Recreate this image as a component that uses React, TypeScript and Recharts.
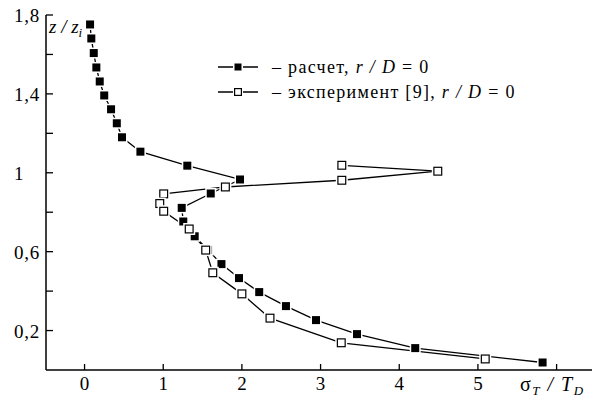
import { Label, Legend, Line, LineChart, XAxis, YAxis } from "recharts";

// расчет, r/D = 0
const calcSigma = [0.07, 0.086, 0.117, 0.15, 0.193, 0.25, 0.337, 0.41, 0.476, 0.71, 1.306, 1.976, 1.604, 1.235, 1.255, 1.4, 1.57, 1.74, 1.963, 2.22, 2.56, 2.942, 3.463, 4.203, 5.822];
const calcZ = [1.752, 1.681, 1.607, 1.534, 1.463, 1.392, 1.322, 1.251, 1.18, 1.107, 1.036, 0.966, 0.895, 0.822, 0.753, 0.678, 0.608, 0.537, 0.466, 0.395, 0.324, 0.253, 0.182, 0.111, 0.038];

// эксперимент [9], r/D = 0
const expSigma = [3.27, 4.49, 3.27, 1.79, 1.006, 0.956, 1.006, 1.33, 1.54, 1.63, 2.0, 2.357, 3.263, 5.093];
const expZ = [1.038, 1.008, 0.962, 0.928, 0.893, 0.844, 0.805, 0.715, 0.608, 0.493, 0.386, 0.263, 0.138, 0.056];

const xTicks = [0, 1, 2, 3, 4, 5, 6];
const xLabels = ["0", "1", "2", "3", "4", "5", ""];
const yTicks = [0.2, 0.4, 0.6, 0.8, 1, 1.2, 1.4, 1.6, 1.8];
const yLabelled = [0.2, 0.6, 1, 1.4, 1.8];

const calcData = calcSigma.map((x, i) => ({ x, y: calcZ[i] }));
const expData = expSigma.map((x, i) => ({ x, y: expZ[i] }));

const FONT = "'Liberation Serif', Tinos, 'Times New Roman', Times, 'DejaVu Serif', 'Noto Serif', serif";
const txt = { fontFamily: FONT };

function squareDot(filled: boolean) {
  return (props: any) => {
    const { cx, cy, index } = props;
    if (cx == null || cy == null) return <g key={`n-${index}`} />;
    const s = filled ? 8 : 9;
    return (
      <g key={`d-${filled ? "f" : "o"}-${index}`}>
        <rect x={cx - s / 2 - 1.5} y={cy - s / 2 - 1.5} width={s + 3} height={s + 3} fill="#fff" />
        <rect
          x={cx - s / 2 + (filled ? 0 : 0.6)}
          y={cy - s / 2 + (filled ? 0 : 0.6)}
          width={filled ? s : s - 1.2}
          height={filled ? s : s - 1.2}
          fill={filled ? "#000" : "#fff"}
          stroke={filled ? "none" : "#000"}
          strokeWidth={1.2}
        />
      </g>
    );
  };
}

function YTick(props: any) {
  const { x, y, payload } = props;
  const v = payload.value;
  const labelled = yLabelled.some((t) => Math.abs(t - v) < 1e-6);
  return (
    <g>
      <line x1={x} x2={x + 7} y1={y} y2={y} stroke="#000" strokeWidth={1.3} />
      {labelled && (
        <text x={x - 32} y={y + 7} style={{ ...txt, letterSpacing: 0.8 }} fontSize={19} fill="#000" textAnchor="start">
          {String(v).replace(".", ",")}
        </text>
      )}
    </g>
  );
}

function XTick(props: any) {
  const { x, y, payload, index } = props;
  return (
    <g>
      <line x1={x} x2={x} y1={y} y2={y - 6} stroke="#000" strokeWidth={1.3} />
      <text x={x} y={y + 20} style={txt} fontSize={19} fill="#000" textAnchor="middle">
        {xLabels[index] ?? String(payload.value)}
      </text>
    </g>
  );
}

function LegendBox() {
  const row = (y: number, filled: boolean, label: string) => (
    <g>
      <line x1={3} x2={43} y1={y} y2={y} stroke="#000" strokeWidth={1.3} />
      <rect x={18} y={y - 5} width={10} height={10} fill="#fff" />
      <rect
        x={filled ? 19.5 : 19.6}
        y={filled ? y - 3.5 : y - 3.4}
        width={filled ? 7 : 6.8}
        height={filled ? 7 : 6.8}
        fill={filled ? "#000" : "#fff"}
        stroke={filled ? "none" : "#000"}
        strokeWidth={1.2}
      />
      <text x={57} y={y + 6} style={{ ...txt, letterSpacing: 1.3 }} fontSize={18} fill="#000">
        {"–  " + label + ", "}
        <tspan fontStyle="italic">r</tspan>
        <tspan fontStyle="italic">{" / "}</tspan>
        <tspan fontStyle="italic">D</tspan>
        {" = 0"}
      </text>
    </g>
  );
  return (
    <svg width={360} height={50} style={{ display: "block" }}>
      {row(12, true, "расчет")}
      {row(37, false, "эксперимент [9]")}
    </svg>
  );
}

export default function App() {
  return (
    <div style={{ position: "absolute", left: 0, top: 0, width: 595, height: 397, background: "#fff", fontFamily: FONT }}>
      <LineChart width={595} height={397} margin={{ top: 15, right: 3, bottom: 0, left: 0 }}>
        <XAxis
          dataKey="x"
          type="number"
          domain={[-0.49, 6.45]}
          allowDataOverflow
          ticks={xTicks}
          interval={0}
          height={27}
          tickSize={0}
          tickMargin={0}
          tickLine={false}
          axisLine={{ stroke: "#000", strokeWidth: 1.5 }}
          tick={<XTick />}
        >
          <Label
            content={(p: any) => {
              const vb = p.viewBox;
              return (
                <text x={vb.x + vb.width - 72} y={vb.y + 21} style={{ ...txt, letterSpacing: 1.5 }} fontSize={20} fill="#000">
                  σ
                  <tspan fontStyle="italic" fontSize={13} dy={4}>T</tspan>
                  <tspan fontStyle="italic" dy={-4}>{" / "}</tspan>
                  <tspan fontStyle="italic">T</tspan>
                  <tspan fontStyle="italic" fontSize={13} dy={4}>D</tspan>
                </text>
              );
            }}
          />
        </XAxis>
        <YAxis
          type="number"
          domain={[0, 1.8]}
          allowDataOverflow
          ticks={yTicks}
          interval={0}
          width={46}
          tickSize={0}
          tickMargin={0}
          tickLine={false}
          axisLine={{ stroke: "#000", strokeWidth: 1.5 }}
          tick={<YTick />}
        >
          <Label
            content={(p: any) => {
              const vb = p.viewBox;
              return (
                <text x={vb.x + vb.width + 3} y={vb.y + 18} style={txt} fontSize={19} fill="#000" fontStyle="italic">
                  z / z
                  <tspan fontSize={13} dy={4}>i</tspan>
                </text>
              );
            }}
          />
        </YAxis>
        <Legend
          layout="horizontal"
          verticalAlign="middle"
          align="center"
          content={() => <LegendBox />}
          wrapperStyle={{ position: "absolute", top: 55, left: 215, width: 360, height: 50 }}
        />
        <Line
          data={calcData}
          dataKey="y"
          type="linear"
          stroke="#000"
          strokeWidth={1.3}
          dot={squareDot(true)}
          activeDot={false}
          isAnimationActive={false}
        />
        <Line
          data={expData}
          dataKey="y"
          type="linear"
          stroke="#000"
          strokeWidth={1.3}
          dot={squareDot(false)}
          activeDot={false}
          isAnimationActive={false}
        />
      </LineChart>
    </div>
  );
}
